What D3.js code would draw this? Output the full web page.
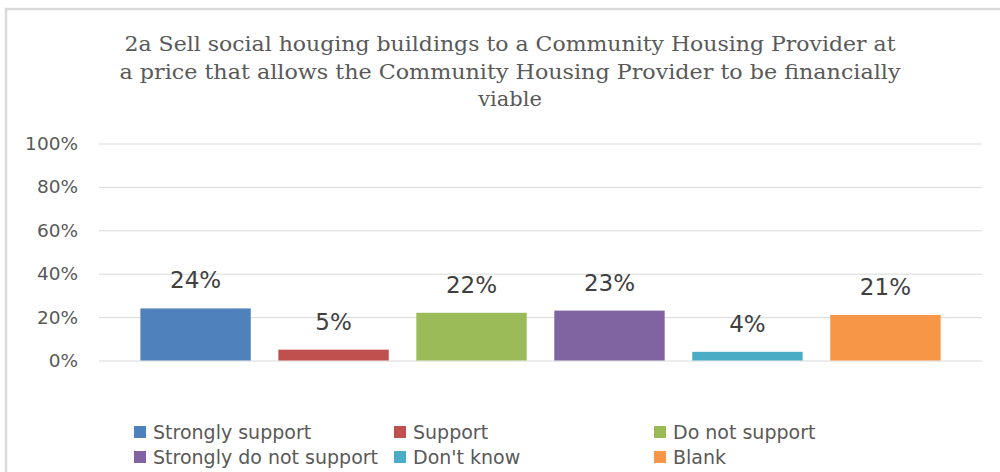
<!DOCTYPE html>
<html>
<head>
<meta charset="utf-8">
<script src="https://cdn.jsdelivr.net/npm/d3@7"></script>
<style>
  html, body { margin: 0; padding: 0; background: #ffffff; }
  svg { display: block; }
</style>
</head>
<body>
<svg id="chart" width="1000" height="472"></svg>
<script>
// Survey responses for question 2a
const titleLines = [
  "2a Sell social houging buildings to a Community Housing Provider at",
  "a price that allows the Community Housing Provider to be financially",
  "viable"
];
const categories = ["Strongly support", "Support", "Do not support", "Strongly do not support", "Don't know", "Blank"];
const values = [0.24, 0.05, 0.22, 0.23, 0.04, 0.21];
const colors = ["#4F81BD", "#C0504D", "#9BBB59", "#8064A2", "#4BACC6", "#F79646"];
const yTicks = [0, 0.2, 0.4, 0.6, 0.8, 1.0];

const svg = d3.select("#chart");

// chart frame (left and top edges visible)
svg.append("rect")
  .attr("x", 6).attr("y", 9)
  .attr("width", 1010).attr("height", 480)
  .attr("fill", "#ffffff")
  .attr("stroke", "#d9d9d9")
  .attr("stroke-width", 2.5);

// title
const titleWidths = [771, 781, null];
svg.append("g")
  .selectAll("text")
  .data(titleLines)
  .join("text")
  .attr("x", 510)
  .attr("y", (d, i) => 51 + i * 27.5)
  .attr("text-anchor", "middle")
  .attr("font-family", "DejaVu Serif")
  .attr("font-size", 21)
  .attr("fill", "#595959")
  .each(function (d, i) {
    if (titleWidths[i]) {
      d3.select(this).attr("textLength", titleWidths[i]).attr("lengthAdjust", "spacingAndGlyphs");
    }
  })
  .text(d => d);

// scales
const plotLeft = 99, plotRight = 982;
const y = d3.scaleLinear().domain([0, 1]).range([360.5, 143.5]);
const x = d3.scaleBand()
  .domain(categories)
  .range([plotLeft, plotRight])
  .paddingInner(0.2)
  .paddingOuter(0.3);

// gridlines + y axis labels
const yAxis = d3.axisLeft(y)
  .tickValues(yTicks)
  .tickFormat(d3.format(".0%"))
  .tickSize(-(plotRight - plotLeft))
  .tickPadding(21);

const gy = svg.append("g")
  .attr("transform", `translate(${plotLeft},0)`)
  .call(yAxis);
gy.select(".domain").remove();
gy.selectAll(".tick line").attr("stroke", "#d9d9d9").attr("stroke-width", 1);
gy.selectAll(".tick text")
  .attr("font-family", "DejaVu Sans")
  .attr("font-size", 18.5)
  .attr("fill", "#595959");

// bars
svg.append("g")
  .selectAll("rect")
  .data(categories)
  .join("rect")
  .attr("x", d => x(d))
  .attr("y", (d, i) => y(values[i]))
  .attr("width", x.bandwidth())
  .attr("height", (d, i) => y(0) - y(values[i]))
  .attr("fill", (d, i) => colors[i]);

// value labels
svg.append("g")
  .selectAll("text")
  .data(categories)
  .join("text")
  .attr("x", d => x(d) + x.bandwidth() / 2)
  .attr("y", (d, i) => y(values[i]) - 20)
  .attr("text-anchor", "middle")
  .attr("font-family", "DejaVu Sans")
  .attr("font-size", 23)
  .attr("fill", "#404040")
  .text((d, i) => d3.format(".0%")(values[i]));

// legend
const legendCols = [134, 394, 654];
const legendRows = [432, 457];
const legend = svg.append("g")
  .selectAll("g")
  .data(categories)
  .join("g")
  .attr("transform", (d, i) => `translate(${legendCols[i % 3]},${legendRows[Math.floor(i / 3)]})`);
legend.append("rect")
  .attr("x", 0).attr("y", -6)
  .attr("width", 12).attr("height", 12)
  .attr("fill", (d, i) => colors[i]);
legend.append("text")
  .attr("x", 19)
  .attr("y", 0)
  .attr("dy", "0.36em")
  .attr("font-family", "DejaVu Sans")
  .attr("font-size", 19)
  .attr("fill", "#595959")
  .text(d => d);
</script>
</body>
</html>
